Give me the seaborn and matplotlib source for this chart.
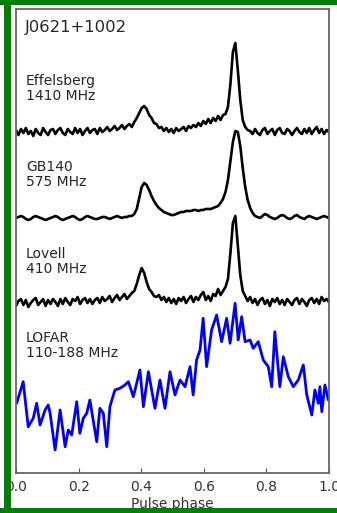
import numpy as np
import pandas as pd
import seaborn as sns
import matplotlib
matplotlib.use("Agg")
import matplotlib.pyplot as plt
from matplotlib.patches import Rectangle

# ---------------- data (intensity in arbitrary units) ----------------
source_name = "J0621+1002"
profile_labels = ["Effelsberg\n1410 MHz", "GB140\n575 MHz", "Lovell\n410 MHz", "LOFAR\n110-188 MHz"]
xticks = [0.0, 0.2, 0.4, 0.6, 0.8, 1.0]
xtick_labels = ["0.0", "0.2", "0.4", "0.6", "0.8", "1.0"]

effelsberg = [
    2, -3, 3, -1, 4, -2, 1, -4, 3, -1, -3, 4, 0, -3, 2, 3,
    -2, 2, 4, -1, -3, 3, 0, -2, 4, -1, 3, -3, 1, 4, -1, 2,
    3, -2, 4, 0, 2, 5, 1, 3, 6, 2, 4, 7, 3, 6, 8, 5,
    10, 14, 19, 24, 26, 23, 17, 14, 9, 8, 4, 5, 1, 4, 0, 3,
    -1, 4, 1, 3, 5, 1, 6, 4, 7, 5, 9, 6, 11, 8, 13, 9,
    14, 11, 16, 12, 17, 18, 25, 48, 80, 89, 62, 32, 12, 5, 2, 1,
    -2, 3, -1, -3, 2, 4, -2, 1, 3, -3, 2, 4, -1, -2, 3, 1,
    -3, 1, 4, 0, -2, 3, -1, 4, -2, 2, 5, -1, 3, -2, 2, 0]

gb140 = [
    0, 1, 2, 1, -1, -2, -1, 1, 2, 1, 0, -1, -2, -1, 0, 1,
    2, 1, -1, -2, -1, 0, 1, 2, 1, -1, -2, -1, 1, 2, 1, 0,
    -1, -1, 0, 1, 1, 0, -1, 0, 1, 2, 1, 0, 1, 1, 2, 2,
    4, 9, 20, 31, 35, 33, 28, 22, 17, 13, 10, 8, 6, 5, 4, 3,
    3, 4, 5, 6, 6, 7, 7, 7, 8, 8, 7, 8, 8, 9, 9, 9,
    10, 11, 12, 15, 19, 26, 38, 57, 76, 87, 86, 72, 50, 31, 18, 10,
    5, 2, 1, 0, 2, 4, 3, 1, 0, -1, 0, 2, 3, 2, 0, -1,
    0, 2, 3, 1, 0, -1, 1, 2, 1, 0, -1, 0, 1, 2, 1, 0]

lovell = [
    -3, 2, 4, -2, 3, -4, 0, 3, 5, -2, 1, 4, -3, 3, -1, 4,
    1, -3, 4, -1, 5, 1, -2, 4, 2, 6, -1, 3, 5, 0, 4, -1,
    3, 5, 0, 6, 2, 4, 7, 1, 5, 8, 3, 6, 9, 4, 7, 10,
    12, 19, 28, 35, 30, 21, 14, 11, 7, 6, 8, 3, 6, 1, 5, 0,
    4, -1, 5, 2, 6, 0, 4, 7, 1, 6, 3, 8, 11, 3, 7, 2,
    9, 7, 14, 8, 12, 16, 24, 50, 80, 87, 58, 28, 12, 7, 2, 6,
    0, 4, -2, 3, 5, -1, 3, -3, 4, 1, 5, -1, 3, -2, 4, 1,
    -2, 3, 5, -1, 4, 1, -3, 3, 5, 0, 4, -1, 6, 2, 4, 1]

lofar_phase = [
    0.002, 0.023, 0.039, 0.055, 0.066, 0.077, 0.093, 0.103, 0.109, 0.125,
    0.141, 0.157, 0.167, 0.178, 0.194, 0.204, 0.215, 0.226, 0.236, 0.258,
    0.268, 0.279, 0.290, 0.300, 0.316, 0.332, 0.348, 0.359, 0.375, 0.396,
    0.407, 0.423, 0.444, 0.460, 0.476, 0.492, 0.508, 0.524, 0.540, 0.556,
    0.566, 0.577, 0.588, 0.598, 0.609, 0.625, 0.641, 0.657, 0.673, 0.684,
    0.700, 0.710, 0.721, 0.732, 0.748, 0.758, 0.774, 0.790, 0.806, 0.817,
    0.827, 0.843, 0.854, 0.870, 0.886, 0.902, 0.918, 0.929, 0.945, 0.955,
    0.966, 0.971, 0.977, 0.987, 0.998]
lofar = [
    69.7, 91.3, 46.3, 54.7, 69.7, 48.0, 63.0, 68.0, 59.7, 23.0,
    63.0, 26.3, 43.0, 38.0, 71.3, 39.7, 54.7, 59.7, 73.0, 31.3,
    64.7, 59.7, 26.3, 66.3, 83.0, 84.7, 88.0, 91.3, 76.3, 103.0,
    66.3, 101.3, 64.7, 93.0, 64.7, 101.3, 78.0, 93.0, 86.3, 106.3,
    78.0, 113.0, 123.0, 154.7, 106.3, 143.0, 158.0, 131.3, 154.7, 129.7,
    169.7, 133.0, 156.3, 131.3, 133.0, 124.7, 131.3, 113.0, 106.3, 86.3,
    141.3, 86.3, 116.3, 96.3, 86.3, 93.0, 108.0, 78.0, 58.0, 83.0,
    69.7, 86.3, 61.3, 88.0, 73.0]

# ---------------- layout / style ----------------
W, H = 337, 513
DPI = 100
offsets = [341, 255, 170, 0]  # vertical stacking of the profiles
label_y_px = [100, 186, 272.7, 356.7]  # first-line baselines (pixels from top)

sns.set_style("white")
plt.rcParams["font.family"] = ["DejaVu Sans"]

fig = plt.figure(figsize=(W / DPI, H / DPI), dpi=DPI, facecolor="white")
ax_l, ax_r, ax_t, ax_b = 16, 329, 9, 473
ax = fig.add_axes([ax_l / W, 1 - ax_b / H, (ax_r - ax_l) / W, (ax_b - ax_t) / H])

phase = np.linspace(0, 1, len(effelsberg))
for prof, off in zip([effelsberg, gb140, lovell], offsets[:3]):
    df = pd.DataFrame({"phase": phase, "I": np.array(prof, dtype=float) + off})
    sns.lineplot(data=df, x="phase", y="I", color="black", lw=1.9, ax=ax,
                 sort=False, estimator=None)
df_lofar = pd.DataFrame({"phase": lofar_phase, "I": np.array(lofar) + offsets[3]})
sns.lineplot(data=df_lofar, x="phase", y="I", color="#0000ff", lw=2.0, ax=ax,
             sort=False, estimator=None)

ax.set_xlim(0, 1)
ax.set_ylim(0, ax_b - ax_t)
ax.set_yticks([])
ax.set_xticks(xticks)
ax.set_xticklabels(xtick_labels)
ax.tick_params(axis="x", direction="in", length=3.5, width=0.8, color="#555555",
               labelsize=10, labelcolor="#333333", pad=5, bottom=True, top=False)
ax.set_xlabel("Pulse phase", fontsize=10, color="#333333", labelpad=2)
ax.set_ylabel("")
for s in ax.spines.values():
    s.set_color("#666666")
    s.set_linewidth(1.3)

hpx = ax_b - ax_t
ax.text((25 - ax_l) / (ax_r - ax_l), (ax_b - 32) / hpx, source_name,
        transform=ax.transAxes, fontsize=11.8, color="#262626", va="baseline", ha="left")
for lab, ypx in zip(profile_labels, label_y_px):
    ax.text((26 - ax_l) / (ax_r - ax_l), (ax_b - ypx) / hpx, lab, transform=ax.transAxes,
            fontsize=10, color="#262626", va="baseline", ha="left", linespacing=1.05)

# green frame around the picture
green = "#008000"
fig.patches.append(Rectangle((0, 1 - 5 / H), 1, 5 / H, transform=fig.transFigure,
                             facecolor=green, edgecolor="none", zorder=5))
fig.patches.append(Rectangle((3.5 / W, 0), 7.5 / W, 1, transform=fig.transFigure,
                             facecolor=green, edgecolor="none", zorder=5))
fig.patches.append(Rectangle((0, 0), 1, 5 / H, transform=fig.transFigure,
                             facecolor=green, edgecolor="none", zorder=5))

fig.savefig("out.png", dpi=DPI, facecolor="white")
